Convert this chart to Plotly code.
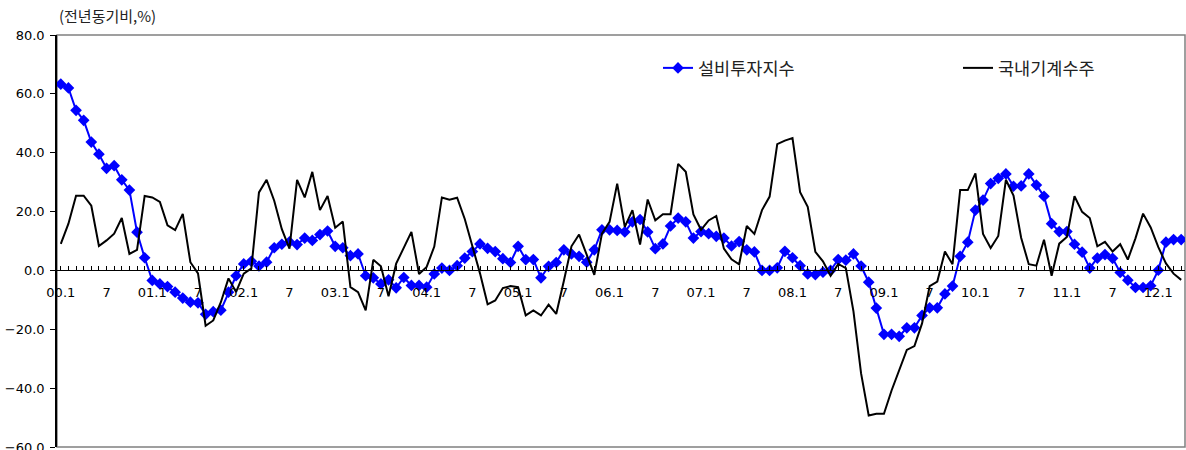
import plotly.graph_objects as go

# 월별 범주 (2000.1 ~ 2012.4)
months = [f"{y:02d}.{m}" for y in range(0, 13) for m in range(1, 13)][:148]

# 설비투자지수 (전년동기비, %)
equip_invest = [
    63.3, 62.0, 54.4, 51.0, 43.6, 39.5, 34.7, 35.6, 30.8, 27.3, 13.0, 4.3,
    -3.4, -4.6, -5.5, -7.4, -9.4, -10.8, -11.0, -14.9, -14.0, -13.5, -7.4, -1.8,
    2.2, 3.1, 1.5, 2.8, 7.7, 8.9, 9.7, 8.8, 11.0, 10.2, 12.2, 13.4,
    8.2, 7.7, 5.0, 5.6, -1.8, -2.5, -4.6, -3.2, -5.9, -2.4, -5.1, -5.1,
    -5.7, -1.2, 0.8, 0.0, 1.6, 4.2, 6.4, 9.0, 7.5, 6.4, 4.0, 2.7,
    8.2, 3.7, 3.7, -2.5, 1.4, 2.7, 7.0, 5.6, 4.8, 2.8, 7.0, 13.8,
    13.8, 13.6, 13.1, 16.5, 17.3, 13.1, 7.4, 9.0, 15.1, 17.8, 16.5, 11.0,
    13.2, 12.5, 11.6, 11.0, 8.3, 9.8, 7.0, 6.3, 0.0, 0.0, 0.9, 6.5,
    4.3, 1.6, -1.2, -1.4, -0.6, 0.0, 3.7, 3.5, 5.6, 1.5, -4.0, -12.8,
    -21.7, -21.7, -22.4, -19.5, -19.5, -15.3, -12.7, -12.7, -8.0, -5.3, 4.8, 9.6,
    20.5, 23.9, 29.5, 31.3, 32.8, 28.6, 28.7, 32.8, 29.0, 25.2, 15.9, 13.2,
    13.2, 8.9, 6.2, 0.8, 4.2, 5.4, 4.1, -0.7, -3.3, -5.8, -5.8, -5.2,
    0.1, 9.6, 10.5, 10.5,
]

# 국내기계수주 (전년동기비, %)
machine_orders = [
    9.0, 15.9, 25.4, 25.4, 22.0, 8.3, 10.2, 12.5, 17.8, 5.6, 7.0, 25.3,
    24.8, 23.3, 15.3, 13.7, 19.2, 2.8, -1.0, -18.8, -17.0, -10.8, -2.7, -7.3,
    -1.1, 0.7, 26.5, 30.8, 23.7, 14.0, 7.4, 30.8, 24.8, 33.5, 20.5, 25.3,
    14.5, 16.6, -5.7, -7.4, -13.6, 3.6, 1.4, -8.8, 2.3, 8.0, 13.1, -1.2,
    1.2, 8.1, 24.8, 24.0, 24.7, 17.5, 8.5, -1.0, -11.5, -10.2, -6.0, -5.3,
    -5.7, -15.3, -13.6, -15.3, -11.6, -14.8, -3.6, 8.2, 12.2, 5.5, -1.5, 12.5,
    16.5, 29.5, 14.8, 20.5, 8.8, 24.1, 17.0, 19.1, 19.1, 36.2, 33.5, 19.0,
    13.8, 17.0, 18.5, 7.4, 3.8, 2.1, 15.1, 12.4, 20.5, 25.1, 42.9, 44.1,
    45.0, 26.6, 21.6, 6.3, 3.1, -1.8, 2.2, 0.8, -13.9, -35.0, -49.3, -48.7,
    -48.7, -40.8, -34.2, -27.0, -25.7, -18.0, -5.3, -3.8, 6.4, 2.1, 27.3, 27.3,
    33.0, 12.4, 7.6, 11.7, 30.8, 25.4, 11.1, 2.1, 1.6, 10.4, -1.8, 9.1,
    11.4, 25.2, 19.9, 17.8, 8.2, 9.7, 6.4, 8.9, 3.7, 10.9, 19.3, 14.6,
    7.9, 2.4, -1.1, -3.2,
]

# x축 눈금 라벨 (6개월 간격)
tick_labels = [
    "00.1", "7", "01.1", "7", "02.1", "7", "03.1", "7", "04.1", "7",
    "05.1", "7", "06.1", "7", "07.1", "7", "08.1", "7", "09.1", "7",
    "10.1", "7", "11.1", "7", "12.1",
]

x_idx = list(range(len(months)))
tick_vals = [x_idx[i * 6] for i in range(len(tick_labels))]

FONT = "DejaVu Sans, Verdana, sans-serif"
KFONT = "Noto Sans CJK KR, sans-serif"

fig = go.Figure()
fig.add_trace(go.Scatter(
    x=x_idx, y=equip_invest, name="설비투자지수", mode="lines+markers",
    line=dict(color="#0000FF", width=2),
    marker=dict(symbol="diamond", size=9, color="#0000FF"),
    hovertext=months, legend="legend",
))
fig.add_trace(go.Scatter(
    x=x_idx, y=machine_orders, name="국내기계수주", mode="lines",
    line=dict(color="#000000", width=2),
    hovertext=months, legend="legend2",
))

legend_common = dict(
    orientation="h", yanchor="middle", y=(447 - 68) / 412,
    font=dict(family=KFONT, size=17.5, color="#222222"),
    bgcolor="rgba(0,0,0,0)", borderwidth=0,
)

fig.update_layout(
    width=1186, height=450,
    margin=dict(l=57, r=1, t=35, b=3, autoexpand=False),
    paper_bgcolor="white", plot_bgcolor="white",
    font=dict(family=FONT, size=13, color="black"),
    showlegend=True,
    legend=dict(x=(658 - 57) / 1128, xanchor="left", **legend_common),
    legend2=dict(x=(958 - 57) / 1128, xanchor="left", **legend_common),
    xaxis=dict(
        range=[-0.5, len(months) - 0.5],
        anchor="free", position=60 / 140,
        showline=True, linecolor="black", linewidth=1,
        tickmode="array", tickvals=tick_vals, ticktext=tick_labels,
        ticks="inside", ticklen=4, tickcolor="black", tickwidth=1,
        minor=dict(dtick=1, tick0=0, ticks="inside", ticklen=4, tickcolor="black", tickwidth=1),
        showgrid=False, zeroline=False, automargin=False,
        tickfont=dict(family=FONT, size=13, color="black"),
        ticklabelstandoff=10,
    ),
    yaxis=dict(
        range=[-60, 80], dtick=20, tick0=0, tickformat=".1f",
        showline=True, linecolor="black", linewidth=1.5,
        ticks="outside", ticklen=5, tickcolor="black",
        showgrid=False, zeroline=False, automargin=False,
        tickfont=dict(family=FONT, size=13, color="black"),
        ticklabelstandoff=3, ticklabeloverflow="allow",
    ),
    shapes=[dict(
        type="rect", xref="paper", yref="paper", x0=0, x1=1, y0=0, y1=1,
        line=dict(color="#808080", width=1.5), layer="below",
    )],
    annotations=[dict(
        text="(전년동기비,%)", xref="paper", yref="paper",
        x=0.0, y=(447 - 16) / 412, xanchor="left", yanchor="middle",
        showarrow=False, font=dict(family=KFONT, size=15, color="#222222"),
    )],
)

# Remove the browser's default body margin so the figure fills the window exactly.
fig.write_html(
    "out.html",
    config={"displayModeBar": False},
    post_script="document.body.style.margin='0';",
)
